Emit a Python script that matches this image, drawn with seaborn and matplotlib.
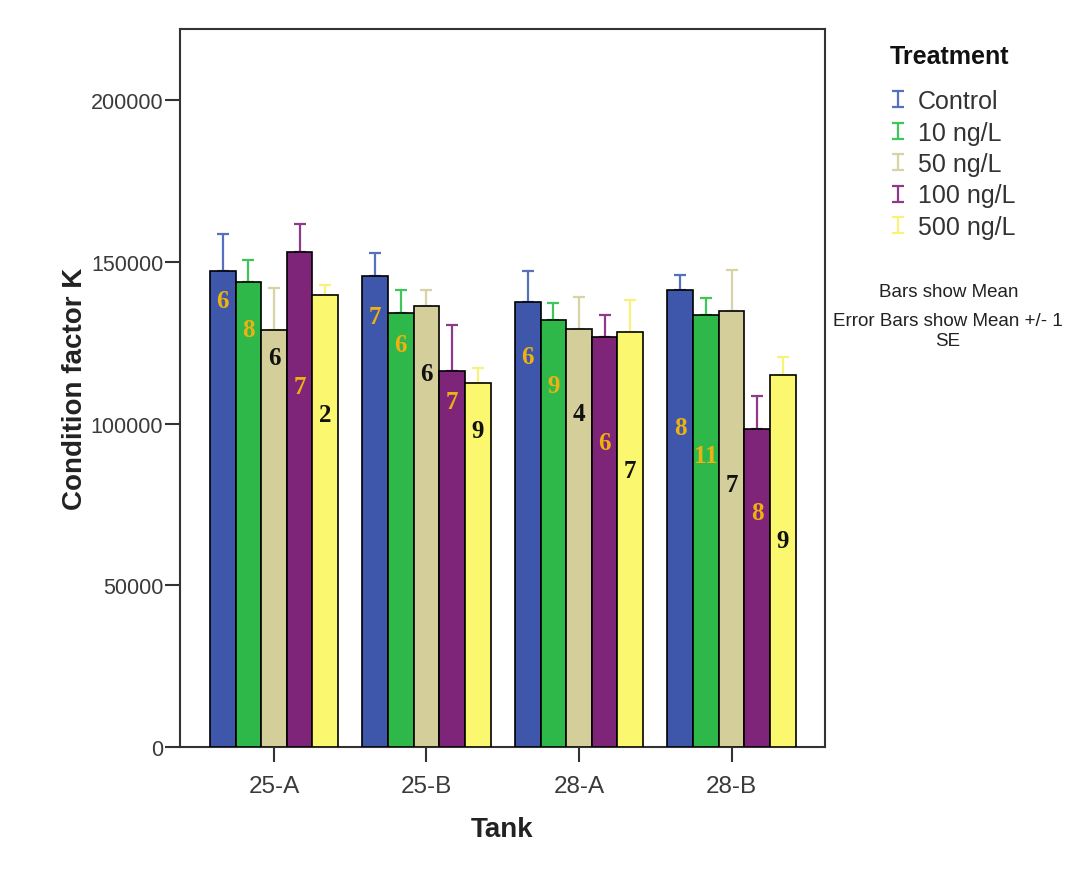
import numpy as np
import pandas as pd
import matplotlib
matplotlib.use("Agg")
import matplotlib.pyplot as plt
from matplotlib.legend_handler import HandlerErrorbar
from matplotlib.container import ErrorbarContainer
import seaborn as sns

# ---- data -------------------------------------------------------------
tanks = ["25-A", "25-B", "28-A", "28-B"]
treatments = ["Control", "10 ng/L", "50 ng/L", "100 ng/L", "500 ng/L"]

control_mean = [147200, 145600, 137600, 141300]
ng10_mean = [143800, 134300, 132000, 133600]
ng50_mean = [128900, 136200, 129100, 134800]
ng100_mean = [153100, 116200, 126900, 98300]
ng500_mean = [139700, 112400, 128400, 115000]

control_se = [11400, 7100, 9500, 4600]
ng10_se = [6900, 7000, 5400, 5300]
ng50_se = [12900, 5100, 10100, 12700]
ng100_se = [8600, 14400, 6700, 10300]
ng500_se = [3100, 4800, 9800, 5600]

control_n = [6, 7, 6, 8]
ng10_n = [8, 6, 9, 11]
ng50_n = [6, 6, 4, 7]
ng100_n = [7, 7, 6, 8]
ng500_n = [2, 9, 7, 9]

y_ticks = [0, 50000, 100000, 150000, 200000]

means = [control_mean, ng10_mean, ng50_mean, ng100_mean, ng500_mean]
ses = [control_se, ng10_se, ng50_se, ng100_se, ng500_se]
counts = [control_n, ng10_n, ng50_n, ng100_n, ng500_n]

rows = []
for t, m_list, s_list, n_list in zip(treatments, means, ses, counts):
    for tank, m, s, n in zip(tanks, m_list, s_list, n_list):
        rows.append({"Tank": tank, "Treatment": t, "K": m, "SE": s, "N": n})
df = pd.DataFrame(rows)

# ---- style ------------------------------------------------------------
colors = ["#3F57AA", "#2EB84A", "#D3CE9A", "#7E2479", "#FBF76E"]
err_colors = ["#5470BE", "#3FC55A", "#D8D3A6", "#8E3A8A", "#F6F27A"]
label_colors = ["#EEB111", "#EEB111", "#111111", "#EEB111", "#111111"]

sns.set_theme(style="white")
plt.rcParams["font.family"] = ["Liberation Sans", "DejaVu Sans"]
ink = "#333333"

fig = plt.figure(figsize=(10.92, 8.79), dpi=100)
ax = fig.add_axes([180 / 1092, 131 / 879, 645 / 1092, 718 / 879])

sns.barplot(data=df, x="Tank", y="K", hue="Treatment", order=tanks,
            hue_order=treatments, palette=colors, saturation=1,
            errorbar=None, width=0.84, gap=0, edgecolor="black",
            linewidth=1.2, legend=False, ax=ax, zorder=3)

# one-sided (upward) standard-error bars, drawn beneath the bar outlines
handles = []
for i, (cont, t) in enumerate(zip(ax.containers, treatments)):
    sub = df[df.Treatment == t].set_index("Tank").loc[tanks]
    xs = [b.get_x() + b.get_width() / 2 for b in cont]
    hs = [b.get_height() for b in cont]
    se = sub["SE"].to_numpy()
    eb = ax.errorbar(xs, hs, yerr=[np.zeros_like(se), se], fmt="none",
                     ecolor=err_colors[i], elinewidth=1.6, capsize=4,
                     capthick=1.6, zorder=2, label=t)
    handles.append(eb)

# sample-size labels inside the bars, stepping down through each group
label_start = [138000, 133200, 120600, 98900]
label_step = 8800
for i, (cont, t) in enumerate(zip(ax.containers, treatments)):
    sub = df[df.Treatment == t].set_index("Tank").loc[tanks]
    for j, b in enumerate(cont):
        ax.text(b.get_x() + b.get_width() / 2,
                label_start[j] - i * label_step, str(sub["N"].iloc[j]),
                ha="center", va="center", fontsize=18, fontweight="bold",
                family="Liberation Serif", color=label_colors[i], zorder=5)

ax.set_xlim(-0.616, 3.613)
ax.set_ylim(0, 222000)
ax.set_yticks(y_ticks)
ax.set_yticklabels([str(v) for v in y_ticks])
for s in ax.spines.values():
    s.set_visible(True)
    s.set_color(ink)
    s.set_linewidth(1.5)
ax.tick_params(axis="both", which="both", direction="out", length=11,
               width=1.5, color=ink, labelcolor="#3a3a3a",
               bottom=True, left=True, top=False, right=False)
ax.tick_params(axis="y", labelsize=15.5, pad=1)
ax.tick_params(axis="x", labelsize=17.5, pad=9)
ax.set_xlabel("Tank", fontsize=20, fontweight="bold", color="#222222",
              labelpad=14)
ax.set_ylabel("Condition factor K", fontsize=20, fontweight="bold",
              color="#222222", labelpad=2)
ax.grid(False)

# legend: small I-beam error-bar glyphs next to each treatment
fig.text(890 / 1092, 1 - 57 / 879, "Treatment", ha="left", va="center",
         fontsize=18, fontweight="bold", color="#111111")
leg = fig.legend(handles=handles, labels=treatments, loc="upper left",
                 bbox_to_anchor=(890 / 1092, 1 - 90 / 879), frameon=False,
                 fontsize=18, handlelength=0.6, handletextpad=0.5,
                 labelspacing=0.3, borderaxespad=0, borderpad=0,
                 handler_map={ErrorbarContainer:
                              HandlerErrorbar(xerr_size=0.32)})
for txt in leg.get_texts():
    txt.set_color("#333333")

fig.text(949 / 1092, 1 - 293 / 879, "Bars show Mean", ha="center",
         va="center", fontsize=13.5, color="#222222")
fig.text(948 / 1092, 1 - 322 / 879, "Error Bars show Mean +/- 1",
         ha="center", va="center", fontsize=13.5, color="#222222")
fig.text(948 / 1092, 1 - 341 / 879, "SE",
         ha="center", va="center", fontsize=13.5, color="#222222")

fig.savefig("out.png", dpi=100)
